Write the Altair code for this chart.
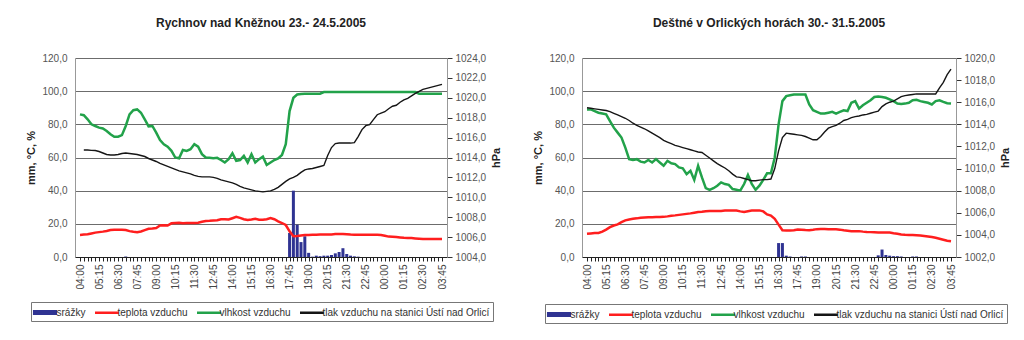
import json
import altair as alt
import pandas as pd

# ---------------- data ----------------
time_labels = ["04:00", "05:15", "06:30", "07:45", "09:00", "10:15", "11:30", "12:45",
               "14:00", "15:15", "16:30", "17:45", "19:00", "20:15", "21:30", "22:45",
               "00:00", "01:15", "02:30", "03:45"]

series_names = ["srážky", "teplota vzduchu", "vlhkost vzduchu",
                "tlak vzduchu na stanici Ústí nad Orlicí"]
bar_color = "#2f3392"
line_colors = ["#ff1e1e", "#22a24a", "#151515"]

# Rychnov nad Kněžnou 23.-24.5.2005 (15-minute steps from 04:00)
r_srazky = [0, 0, 0, 0, 0, 0, 0, 0, 0, 0, 0, 0, 0.3, 0, 0, 0, 0, 0, 0, 0,
            0, 0, 0, 0, 0, 0, 0, 0, 0, 0, 0, 0, 0, 0, 0, 0, 0, 0, 0, 0,
            0, 0, 0, 0, 0, 0, 0, 0, 0, 0, 0, 0, 0, 0, 0, 14.5, 40, 19.5, 9, 12.5,
            2.5, 0.2, 0.8, 0.5, 0.8, 0.8, 1.2, 2.2, 3, 5.3, 1.8, 0.8, 0.4, 0.2, 0, 0, 0, 0, 0, 0,
            0, 0, 0, 0, 0, 0, 0, 0, 0, 0, 0, 0, 0, 0, 0, 0]
r_teplota = [13.3, 13.5, 13.7, 14.2, 14.7, 15, 15.3, 15.7, 16.3, 16.5, 16.5, 16.5, 16.3, 15.6, 15.2, 15, 15.4, 16.2, 17, 17.2,
             17.5, 19, 19.2, 19, 20.3, 20.5, 20.7, 20.3, 20.5, 20.5, 20.5, 20.7, 21.2, 21.7, 21.8, 22, 22.2, 22.8, 22.8, 22.6,
             23.4, 24.2, 23.6, 22.8, 22.3, 22.6, 23, 22.5, 22.4, 22.8, 23.5, 22.8, 21.5, 20.5, 19.3, 15.5, 12.5, 12.6, 13, 13.2,
             13.3, 13.4, 13.4, 13.5, 13.5, 13.5, 13.6, 13.8, 13.9, 13.9, 13.7, 13.5, 13.4, 13.4, 13.4, 13.4, 13.4, 13.4, 13.4, 13.3,
             12.8, 12.3, 12.2, 12.0, 11.8, 11.6, 11.5, 11.4, 11.2, 11.0, 10.8, 10.8, 10.8, 10.8, 10.8, 10.9]
r_vlhkost = [86, 85.5, 83, 80, 79, 78, 77.5, 76, 74, 72.5, 72.5, 73.5, 79, 86, 88.5, 89, 87, 83, 78.8, 79,
             75, 70.5, 68, 66.5, 64, 60, 59.5, 64.5, 64, 65, 68, 66.5, 62, 60, 59.8, 59.6, 59.8, 58.5, 57, 59,
             62.5, 58, 58.5, 61, 57, 62, 57, 59, 60.5, 55.5, 57, 58.5, 59.5, 61.5, 68, 88, 96, 98, 98.3, 98.5,
             98.5, 98.5, 98.5, 98.5, 99.5, 99.5, 99.5, 99.5, 99.5, 99.5, 99.5, 99.5, 99.5, 99.5, 99.5, 99.5, 99.5, 99.5, 99.5, 99.5,
             99.5, 99.5, 99.5, 99.5, 99.5, 99.5, 99.5, 99.5, 99.5, 98.5, 98.5, 98.5, 98.5, 98.5, 98.5, 98.5]
r_tlak = [None, 1014.75, 1014.75, 1014.72, 1014.7, 1014.6, 1014.45, 1014.3, 1014.25, 1014.25,
          1014.3, 1014.4, 1014.45, 1014.4, 1014.35, 1014.3, 1014.2, 1014.1, 1013.9, 1013.75,
          1013.6, 1013.4, 1013.25, 1013.1, 1012.95, 1012.8, 1012.65, 1012.55, 1012.45, 1012.35,
          1012.2, 1012.1, 1012.05, 1012.05, 1012.05, 1012.0, 1011.9, 1011.75, 1011.65, 1011.55,
          1011.45, 1011.3, 1011.1, 1010.95, 1010.85, 1010.75, 1010.65, 1010.6, 1010.55, 1010.6,
          1010.65, 1010.8, 1011.0, 1011.3, 1011.6, 1011.85, 1012.0, 1012.2, 1012.5, 1012.75,
          1012.85, 1012.9, 1013.0, 1013.1, 1013.2, 1014.2, 1015.0, 1015.4, 1015.45, 1015.45,
          1015.45, 1015.45, 1015.5, 1016.1, 1016.8, 1017.2, 1017.3, 1017.8, 1018.3, 1018.45,
          1018.6, 1018.9, 1019.15, 1019.25, 1019.55, 1019.8, 1019.95, 1020.2, 1020.45, 1020.65,
          1020.85, 1020.95, 1021.05, 1021.15, 1021.25, 1021.35]

# Deštné v Orlických horách 30.-31.5.2005
d_srazky = [0, 0, 0, 0, 0, 0, 0, 0, 0, 0, 0, 0, 0, 0, 0, 0, 0, 0, 0, 0,
            0, 0, 0, 0, 0, 0, 0, 0, 0, 0, 0, 0, 0, 0, 0, 0, 0, 0, 0, 0,
            0, 0, 0, 0, 0, 0, 0, 0, 0, 0, 8.4, 8.4, 0.8, 0.3, 0, 0, 0.3, 0.3, 0, 0,
            0, 0, 0, 0, 0, 0, 0, 0, 0, 0, 0, 0, 0, 0, 0, 0, 1, 4.5, 1.2, 0.8,
            0.5, 0.5, 0.3, 0, 0, 0.3, 0.3, 0, 0, 0, 0, 0, 0, 0, 0, 0]
d_teplota = [14, 14.2, 14.4, 14.5, 15.3, 16.5, 18, 19, 19.7, 21, 22.1, 22.6, 23, 23.3, 23.7, 23.8, 23.9, 24, 24.1, 24.1,
             24.2, 24.5, 24.9, 25.1, 25.4, 25.7, 26, 26.3, 26.7, 27.1, 27.3, 27.6, 27.7, 27.7, 27.7, 27.8, 28, 28.1, 28.1, 28,
             27.5, 27.1, 27.6, 28, 28.1, 28.1, 27.5, 25.7, 25, 23, 19.5, 16.1, 16, 16, 16.1, 16.6, 16.5, 16.3, 16.2, 16.4,
             16.8, 16.9, 16.9, 16.8, 16.7, 16.7, 16.5, 16.1, 15.8, 15.5, 15.6, 15.6, 15.3, 15.1, 15, 14.9, 14.8, 14.8, 14.7, 14.7,
             14.3, 14.0, 13.6, 13.4, 13.3, 13.2, 13.1, 13.0, 12.7, 12.4, 12.0, 11.6, 11.0, 10.4, 9.8, 9.5]
d_vlhkost = [89, 89, 88, 87, 86.5, 86, 82, 78, 75, 72, 66, 59, 58.5, 59, 57.5, 57, 58.5, 57, 59, 57,
             55, 58, 56.5, 56, 54, 53.5, 50, 52, 46.5, 55, 48, 41.5, 40.5, 41.5, 43, 45, 44, 43.5, 41, 40.5,
             40, 44, 49.5, 44, 40.5, 43, 46.5, 50.5, 50.5, 60, 80, 94, 97, 97.5, 98, 98, 98, 98, 92, 88.5,
             87.5, 86.5, 86.5, 87, 87.5, 86.5, 87.5, 88.5, 88, 93, 94, 89.5, 91.5, 93, 94.5, 96.5, 96.8, 96.5, 96, 95,
             94, 92.5, 92.3, 92.5, 93, 94.5, 94.8, 94, 93.5, 93, 92, 94, 94.5, 93.5, 92.7, 92.5]
d_tlak = [1015.5, 1015.45, 1015.4, 1015.35, 1015.3, 1015.25, 1015.15, 1015.0, 1014.85, 1014.7,
          1014.55, 1014.35, 1014.1, 1013.9, 1013.75, 1013.6, 1013.4, 1013.2, 1013.0, 1012.8,
          1012.55, 1012.4, 1012.25, 1012.1, 1012.0, 1011.9, 1011.8, 1011.7, 1011.6, 1011.5,
          1011.45, 1011.2, 1010.95, 1010.7, 1010.45, 1010.25, 1010.05, 1009.8, 1009.5, 1009.25,
          1009.2, 1009.1, 1009.0, 1008.9, 1008.9, 1008.95, 1009.0, 1009.0, 1009.05, 1010.0,
          1011.6, 1012.8, 1013.2, 1013.15, 1013.1, 1013.05, 1013.0, 1012.9, 1012.75, 1012.6,
          1012.6, 1012.9, 1013.3, 1013.65, 1013.8, 1013.9, 1014.1, 1014.35, 1014.45, 1014.6,
          1014.7, 1014.75, 1014.85, 1014.9, 1015.0, 1015.1, 1015.2, 1015.6, 1015.85, 1016.0,
          1016.1, 1016.3, 1016.5, 1016.6, 1016.65, 1016.7, 1016.75, 1016.75, 1016.75, 1016.75,
          1016.75, 1016.75, 1017.3, 1017.8, 1018.5, 1019.0]

left_ticks = [0, 20, 40, 60, 80, 100, 120]

FONT = "Liberation Sans"
comma_fmt = "replace(format(datum.value, '.1f'), '.', ',')"
LEG_PAD = 3
SYM_SIZE = 144      # symbol box 12 px; paths below are drawn 24 px wide
SYM_SW = 2.5
LABEL_OFF = 3


def make_panel(title, srazky, teplota, vlhkost, tlak, p_ticks, w, h, lx, ly):
    n = len(teplota)
    idx = list(range(n))
    bars_df = pd.DataFrame({"i": idx, "value": srazky, "series": series_names[0]})
    bars_df = bars_df[bars_df["value"] > 0]
    left_df = pd.concat([
        pd.DataFrame({"i": idx, "value": teplota, "series": series_names[1]}),
        pd.DataFrame({"i": idx, "value": vlhkost, "series": series_names[2]}),
    ])
    p_df = pd.DataFrame({"i": idx, "value": tlak, "series": series_names[3]}).dropna()

    label_expr = ("datum.value % 5 == 0 ? " + json.dumps(time_labels) +
                  "[datum.value / 5] : ''")
    x_axis = alt.Axis(values=idx, labelExpr=label_expr, labelAngle=-90,
                      labelOverlap=False, tickSize=4, tickColor="#222",
                      domainColor="#222", labelFontSize=10, labelColor="#444",
                      labelPadding=3, grid=False, title=None, labelFont=FONT)
    x_enc = alt.X("i:Q", scale=alt.Scale(domain=[0, n - 1], nice=False, zero=False),
                  axis=x_axis)

    # rectangle symbol of the bar series, laid exactly over the first (blank) entry
    bar_fill = alt.Color(
        "series:N", scale=alt.Scale(domain=[series_names[0]], range=[bar_color]),
        legend=alt.Legend(orient="none", legendX=lx + LEG_PAD, legendY=ly + LEG_PAD,
                          direction="horizontal", title=None,
                          symbolType="M-1.8,-0.22H1.8V0.22H-1.8Z", symbolSize=SYM_SIZE,
                          symbolOffset=3.5, symbolStrokeColor=bar_color,
                          symbolStrokeWidth=SYM_SW, symbolFillColor=bar_color,
                          labelExpr="''", labelOffset=LABEL_OFF, labelFontSize=10,
                          labelFont=FONT, padding=0))
    # framed legend with all four names; the bar entry's line symbol is transparent
    line_stroke = alt.Stroke(
        "series:N",
        scale=alt.Scale(domain=series_names, range=["rgba(0,0,0,0)"] + line_colors),
        legend=alt.Legend(orient="none", legendX=lx, legendY=ly,
                          direction="horizontal", title=None,
                          symbolType="M-2,0H2", symbolSize=SYM_SIZE, symbolOffset=4.5,
                          symbolStrokeWidth=SYM_SW, labelOffset=LABEL_OFF,
                          labelFontSize=10, labelFont=FONT, labelColor="#333",
                          labelLimit=0, columnPadding=4, strokeColor="#777",
                          padding=LEG_PAD))

    y_left_axis = alt.Axis(values=left_ticks, labelExpr=comma_fmt, grid=True,
                           gridColor="#6c6c6c", ticks=False, domainColor="#999",
                           labelFontSize=10, labelColor="#555", labelFont=FONT,
                           title="mm, °C, %", titleFontSize=11, titleFontWeight="bold",
                           titleColor="#222", titleFont=FONT, titlePadding=5,
                           labelPadding=8)
    y_left_scale = alt.Scale(domain=[0, 120], nice=False)

    bars = alt.Chart(bars_df).mark_bar(size=3).encode(
        x=x_enc,
        y=alt.Y("value:Q", scale=y_left_scale, axis=y_left_axis),
        color=bar_fill,
    )
    lines = alt.Chart(left_df).mark_line(strokeWidth=2.5).encode(
        x=x_enc,
        y=alt.Y("value:Q", scale=y_left_scale, axis=y_left_axis),
        stroke=line_stroke,
    )
    y_right_axis = alt.Axis(orient="right", values=p_ticks, labelExpr=comma_fmt,
                            grid=False, tickSize=5, tickColor="#333",
                            domainColor="#999", labelFontSize=10, labelColor="#555",
                            labelFont=FONT, labelPadding=3, title="hPa",
                            titleFontSize=11, titleFontWeight="bold",
                            titleColor="#222", titleFont=FONT, titleAngle=270,
                            titleBaseline="top", titlePadding=5)
    press = alt.Chart(p_df).mark_line(strokeWidth=1.4).encode(
        x=x_enc,
        y=alt.Y("value:Q", scale=alt.Scale(domain=[p_ticks[0], p_ticks[-1]], nice=False, zero=False),
                axis=y_right_axis),
        stroke=line_stroke,
    )
    left_layer = alt.layer(bars, lines)
    return alt.layer(left_layer, press).resolve_scale(y="independent").properties(
        width=w, height=h,
        title=alt.TitleParams(text=title, fontSize=12, fontWeight="bold", font=FONT,
                              color="#222", anchor="middle", offset=23),
    )


p1 = make_panel("Rychnov nad Kněžnou 23.- 24.5.2005", r_srazky, r_teplota, r_vlhkost,
                r_tlak, [1004, 1006, 1008, 1010, 1012, 1014, 1016, 1018, 1020, 1022, 1024],
                372, 199, -44, 244)
p2 = make_panel("Deštné v Orlických horách 30.- 31.5.2005", d_srazky, d_teplota, d_vlhkost,
                d_tlak, [1002, 1004, 1006, 1008, 1010, 1012, 1014, 1016, 1018, 1020],
                374, 199, -37, 246)

chart = alt.hconcat(p1, p2, spacing=135, bounds="flush").resolve_scale(
    color="independent", stroke="independent"
).properties(
    padding={"left": 25, "top": 17, "right": 0, "bottom": 0},
    background="white",
).configure_view(stroke=None)

chart.save("out.html", embed_options={"renderer": "svg", "actions": False})
